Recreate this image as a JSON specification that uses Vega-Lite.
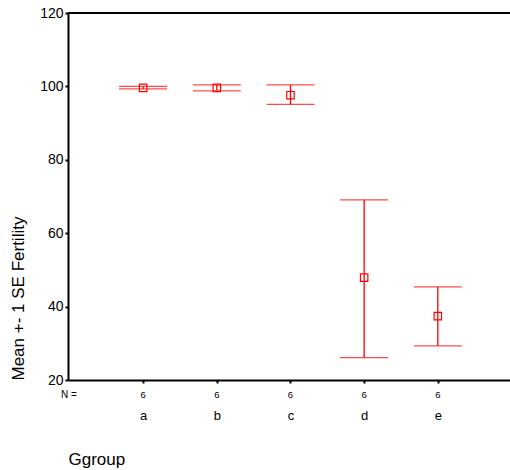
{
  "$schema": "https://vega.github.io/schema/vega-lite/v6.json",
  "width": 442,
  "height": 367,
  "autosize": "none",
  "padding": {"left": 68, "top": 13, "right": 0, "bottom": 90},
  "background": "white",
  "config": {
    "view": {"stroke": null},
    "font": "Liberation Sans"
  },
  "data": {
    "values": [
      {"group": "a", "mean": 99.6, "lo": 99.3, "hi": 100.0, "n": 6},
      {"group": "b", "mean": 99.6, "lo": 98.8, "hi": 100.4, "n": 6},
      {"group": "c", "mean": 97.6, "lo": 95.1, "hi": 100.4, "n": 6},
      {"group": "d", "mean": 47.9, "lo": 26.1, "hi": 69.1, "n": 6},
      {"group": "e", "mean": 37.4, "lo": 29.3, "hi": 45.4, "n": 6}
    ]
  },
  "encoding": {
    "x": {
      "field": "group",
      "type": "nominal",
      "scale": {"type": "point", "padding": 1.08, "align": 0.51},
      "axis": {
        "title": "Ggroup",
        "titleFontSize": 17,
        "titleFontWeight": "normal",
        "titleColor": "black",
        "titleAnchor": "start",
        "titleAlign": "left",
        "titleBaseline": "middle",
        "titleX": 0,
        "titleY": 79,
        "labelAngle": 0,
        "labelFontSize": 13,
        "labelColor": "black",
        "labelBaseline": "middle",
        "labelPadding": 32,
        "tickSize": 3,
        "tickWidth": 2,
        "tickColor": "black",
        "domainColor": "black",
        "domainWidth": 2
      }
    }
  },
  "layer": [
    {
      "mark": {"type": "rule", "color": "black", "strokeWidth": 2},
      "encoding": {"y": {"datum": 120, "type": "quantitative"}, "x": null}
    },
    {
      "mark": {"type": "rule", "color": "#ff0000", "strokeWidth": 1.3},
      "encoding": {
        "y": {
          "field": "lo",
          "type": "quantitative",
          "scale": {"domain": [20, 120], "nice": false, "zero": false},
          "axis": {
            "values": [20, 40, 60, 80, 100, 120],
            "title": "Mean +- 1 SE Fertility",
            "titleFontSize": 17,
            "titleFontWeight": "normal",
            "titleColor": "black",
            "titleAngle": -90,
            "titleAnchor": "start",
            "titleAlign": "left",
            "titleBaseline": "middle",
            "titleX": -50,
            "titleY": 367,
            "labelFontSize": 14,
            "labelColor": "black",
            "labelPadding": 2,
            "tickSize": 3,
            "tickWidth": 2,
            "tickColor": "black",
            "domainColor": "black",
            "domainWidth": 2,
            "grid": false
          }
        },
        "y2": {"field": "hi"}
      }
    },
    {
      "mark": {"type": "tick", "color": "#ff0000", "size": 48, "thickness": 1.3},
      "encoding": {"y": {"field": "lo", "type": "quantitative"}}
    },
    {
      "mark": {"type": "tick", "color": "#ff0000", "size": 48, "thickness": 1.3},
      "encoding": {"y": {"field": "hi", "type": "quantitative"}}
    },
    {
      "mark": {"type": "point", "shape": "square", "filled": false, "color": "#ff0000", "size": 55, "strokeWidth": 1.2, "opacity": 1},
      "encoding": {"y": {"field": "mean", "type": "quantitative"}}
    },
    {
      "mark": {"type": "text", "fontSize": 9.5, "color": "black", "baseline": "middle", "clip": false},
      "encoding": {
        "y": {"datum": 16.0, "type": "quantitative"},
        "text": {"field": "n"}
      }
    },
    {
      "data": {"values": [{"label": "N ="}]},
      "mark": {"type": "text", "fontSize": 10, "color": "black", "baseline": "middle", "align": "center", "clip": false},
      "encoding": {
        "x": {"value": 1},
        "y": {"datum": 16.0, "type": "quantitative"},
        "text": {"field": "label"}
      }
    }
  ]
}
